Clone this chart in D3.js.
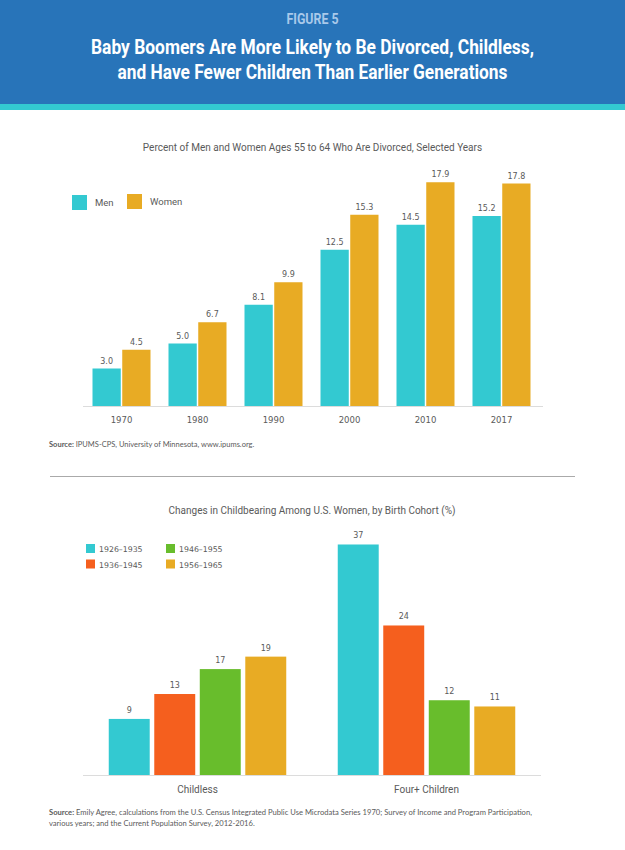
<!DOCTYPE html>
<html><head><meta charset="utf-8">
<script src="https://cdn.jsdelivr.net/npm/d3@7/dist/d3.min.js"></script>
<style>body{margin:0;background:#fff}svg{display:block}</style>
</head><body>
<script>
const years = ["1970","1980","1990","2000","2010","2017"];
const sexes = ["Men","Women"];
const menValues = [3.0,5.0,8.1,12.5,14.5,15.2];
const womenValues = [4.5,6.7,9.9,15.3,17.9,17.8];

const measures = ["Childless","Four+ Children"];
const cohorts = ["1926–1935","1936–1945","1946–1955","1956–1965"];
const childlessValues = [9,13,17,19];
const fourPlusValues = [37,24,12,11];

const sexColors = ["#33C9D1","#E8AB24"];
const cohortColors = ["#33C9D1","#F55F1E","#68BD2C","#E8AB24"];

const W=625,H=850;
const svg=d3.select("body").append("svg").attr("width",W).attr("height",H);
const txt="#5a5a5a";
const hf="Roboto, DejaVu Sans, sans-serif";

// header
svg.append("rect").attr("x",0).attr("y",0).attr("width",W).attr("height",104).attr("fill","#2874B9");
svg.append("rect").attr("x",0).attr("y",104).attr("width",W).attr("height",6).attr("fill","#33C9D1");
svg.append("text").attr("x",W/2).attr("y",24).attr("text-anchor","middle")
  .attr("font-family",hf).attr("font-weight","bold")
  .attr("font-size",14).attr("fill","#A9C9EA")
  .attr("textLength",52).attr("lengthAdjust","spacingAndGlyphs").text("FIGURE 5");
svg.append("text").attr("x",W/2).attr("y",54).attr("text-anchor","middle")
  .attr("font-family",hf).attr("font-weight","bold")
  .attr("font-size",19.5).attr("fill","#fff")
  .attr("textLength",443).attr("lengthAdjust","spacingAndGlyphs")
  .text("Baby Boomers Are More Likely to Be Divorced, Childless,");
svg.append("text").attr("x",W/2).attr("y",79).attr("text-anchor","middle")
  .attr("font-family",hf).attr("font-weight","bold")
  .attr("font-size",19.5).attr("fill","#fff")
  .attr("textLength",390).attr("lengthAdjust","spacingAndGlyphs")
  .text("and Have Fewer Children Than Earlier Generations");

// ---- Chart 1
svg.append("text").attr("x",312.5).attr("y",151).attr("text-anchor","middle")
  .attr("font-family","Roboto, sans-serif").attr("font-size",10).attr("fill",txt)
  .text("Percent of Men and Women Ages 55 to 64 Who Are Divorced, Selected Years");

const legend1=[{x:72,y:195},{x:127,y:194}];
sexes.forEach((s,i)=>{
  svg.append("rect").attr("x",legend1[i].x).attr("y",legend1[i].y).attr("width",15).attr("height",15).attr("fill",sexColors[i]);
  svg.append("text").attr("x",legend1[i].x+23).attr("y",legend1[i].y+11).attr("font-family","Roboto, sans-serif")
    .attr("font-size",9.5).attr("fill",txt).text(s);
});

const x0=d3.scaleBand().domain(years).range([83.5,539.5]);
const x1=d3.scaleBand().domain(sexes).range([9,67]).paddingInner(0.05);
const y1=d3.scaleLinear().domain([0,20]).range([406,156]);
const series1=[menValues,womenValues];
const g1=svg.append("g");
years.forEach((yr,i)=>{
  sexes.forEach((s,j)=>{
    const v=series1[j][i];
    g1.append("rect").attr("x",x0(yr)+x1(s)).attr("y",y1(v)).attr("width",x1.bandwidth())
      .attr("height",y1(0)-y1(v)).attr("fill",sexColors[j]);
    g1.append("text").attr("x",x0(yr)+x1(s)+x1.bandwidth()/2).attr("y",y1(v)-5).attr("text-anchor","middle")
      .attr("font-family","DejaVu Sans, sans-serif").attr("font-size",8).attr("fill",txt).text(v.toFixed(1));
  });
});
const ax1=svg.append("g").attr("transform","translate(0,406.5)").call(d3.axisBottom(x0).tickSize(0).tickPadding(10));
ax1.select(".domain").attr("stroke","#dcdcdc").attr("d","M83,0H543");
ax1.selectAll("text").attr("font-family","DejaVu Sans, sans-serif").attr("font-size",8.5).attr("fill",txt);

svg.append("text").attr("x",49).attr("y",447).attr("font-family","Lato, sans-serif").attr("font-size",7.5).attr("fill",txt)
  .html('<tspan font-weight="bold">Source:</tspan> IPUMS-CPS, University of Minnesota, www.ipums.org.');

svg.append("line").attr("x1",50).attr("x2",575).attr("y1",476.5).attr("y2",476.5).attr("stroke","#aaa").attr("stroke-width",1);

// ---- Chart 2
svg.append("text").attr("x",312).attr("y",514).attr("text-anchor","middle")
  .attr("font-family","Roboto, sans-serif").attr("font-size",10).attr("fill",txt)
  .text("Changes in Childbearing Among U.S. Women, by Birth Cohort (%)");

const legend2=[{x:86,y:544},{x:86,y:559.5},{x:166,y:544},{x:166,y:559.5}];
cohorts.forEach((c,i)=>{
  svg.append("rect").attr("x",legend2[i].x).attr("y",legend2[i].y).attr("width",9).attr("height",9).attr("fill",cohortColors[i]);
  svg.append("text").attr("x",legend2[i].x+13).attr("y",legend2[i].y+8).attr("font-family","DejaVu Sans, sans-serif")
    .attr("font-size",7.8).attr("fill",txt).text(c);
});

const m0=d3.scaleBand().domain(measures).range([83,541]);
const m1=d3.scaleBand().domain(cohorts).range([25.75,203.25]).paddingInner(0.1);
const y2=d3.scaleLinear().domain([0,40]).range([775,525.8]);
const series2=[childlessValues,fourPlusValues];
const g2=svg.append("g");
measures.forEach((m,i)=>{
  cohorts.forEach((c,j)=>{
    const v=series2[i][j];
    g2.append("rect").attr("x",m0(m)+m1(c)).attr("y",y2(v)).attr("width",m1.bandwidth())
      .attr("height",y2(0)-y2(v)).attr("fill",cohortColors[j]);
    g2.append("text").attr("x",m0(m)+m1(c)+m1.bandwidth()/2).attr("y",y2(v)-6).attr("text-anchor","middle")
      .attr("font-family","DejaVu Sans, sans-serif").attr("font-size",8).attr("fill",txt).text(v);
  });
});
const ax2=svg.append("g").attr("transform","translate(0,775.5)").call(d3.axisBottom(m0).tickSize(0).tickPadding(10));
ax2.select(".domain").attr("stroke","#dcdcdc").attr("d","M83,0H541");
ax2.selectAll("text").attr("font-family","Roboto, sans-serif").attr("font-size",10).attr("fill",txt);

const src2=svg.append("text").attr("font-family","Lato, sans-serif").attr("font-size",7.6).attr("fill",txt);
src2.append("tspan").attr("x",49).attr("y",815).html('<tspan font-weight="bold">Source:</tspan> Emily Agree, calculations from the U.S. Census Integrated Public Use Microdata Series 1970; Survey of Income and Program Participation,');
src2.append("tspan").attr("x",49).attr("y",826).text("various years; and the Current Population Survey, 2012-2016.");
</script>
</body></html>
